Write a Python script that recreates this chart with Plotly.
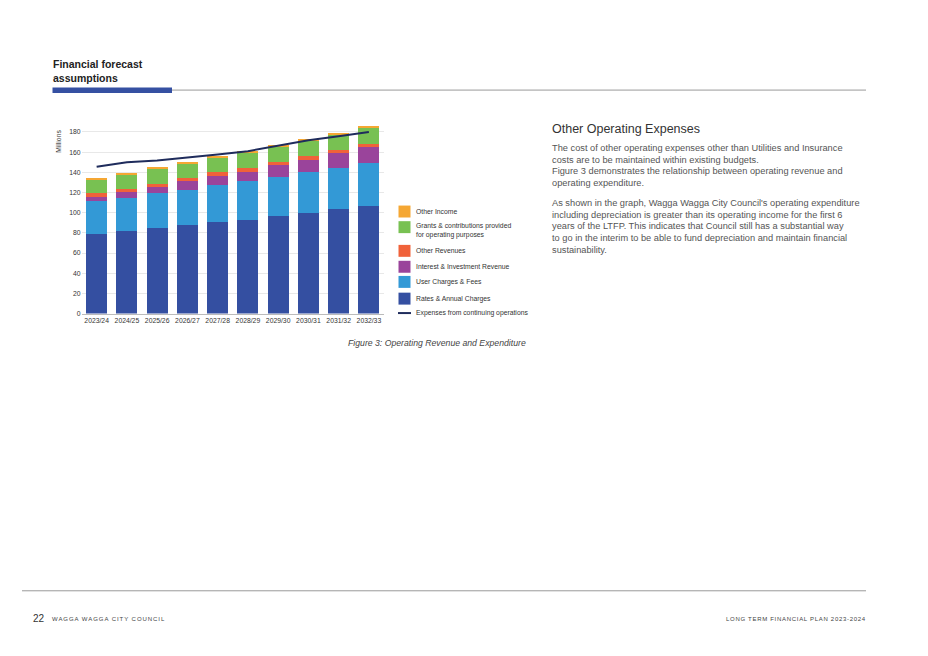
import plotly.graph_objects as go

W, H = 928, 656

years = ["2023/24", "2024/25", "2025/26", "2026/27", "2027/28",
         "2028/29", "2029/30", "2030/31", "2031/32", "2032/33"]

rates_annual = [78.5, 81.5, 84.4, 87.4, 90.3, 93.0, 96.6, 99.9, 103.2, 107.1]
user_charges = [33.2, 33.5, 34.8, 35.5, 36.8, 38.0, 39.1, 40.1, 41.3, 42.4]
interest_inv = [4.3, 5.2, 6.3, 8.1, 9.6, 9.6, 11.1, 12.4, 14.2, 15.4]
other_revenues = [3.6, 3.3, 2.9, 3.0, 3.3, 3.9, 3.7, 4.0, 3.3, 3.3]
grants_contrib = [13.8, 14.1, 15.2, 15.1, 14.7, 15.2, 15.4, 15.1, 15.4, 16.1]
other_income = [1.0, 1.4, 0.9, 1.0, 1.3, 1.3, 1.0, 1.6, 1.6, 1.3]
expenses = [145.5, 150.0, 151.8, 154.4, 157.7, 161.0, 166.5, 171.8, 175.8, 180.0]

y_ticks = [0, 20, 40, 60, 80, 100, 120, 140, 160, 180]

series = [
    ("Rates & Annual Charges", rates_annual, "#344FA1"),
    ("User Charges & Fees", user_charges, "#3399D6"),
    ("Interest & Investment Revenue", interest_inv, "#9A449B"),
    ("Other Revenues", other_revenues, "#F0623A"),
    ("Grants & contributions provided<br>for operating purposes", grants_contrib, "#78C152"),
    ("Other Income", other_income, "#F5A733"),
]
line_name = "Expenses from continuing operations"
line_color = "#1F2C5C"

FONT = "Liberation Sans, Arial, sans-serif"


def px(x):
    return x / W


def py(y):
    return 1 - y / H


def spaced(t, ls):
    return '<span style="letter-spacing:%spx">%s</span>' % (ls, t)


fig = go.Figure()
for name, vals, col in series:
    fig.add_trace(go.Bar(x=years, y=vals, name=name, marker=dict(color=col, line=dict(width=0)),
                         showlegend=False))
fig.add_trace(go.Scatter(x=years, y=expenses, name=line_name, mode="lines",
                         line=dict(color=line_color, width=2), showlegend=False))

shapes = []
annotations = []

# custom legend (top to bottom)
legend_rows = [
    ("Other Income", "#F5A733", 212.5, "box"),
    ("Grants & contributions provided<br>for operating purposes", "#78C152", 228.2, "box"),
    ("Other Revenues", "#F0623A", 252.0, "box"),
    ("Interest & Investment Revenue", "#9A449B", 268.0, "box"),
    ("User Charges & Fees", "#3399D6", 283.2, "box"),
    ("Rates & Annual Charges", "#344FA1", 300.0, "box"),
    (line_name, line_color, 314.5, "line"),
]
for text, col, yc, kind in legend_rows:
    if kind == "box":
        shapes.append(dict(type="rect", xref="paper", yref="paper",
                           x0=px(398.5), x1=px(410.5), y0=py(yc - 6), y1=py(yc + 6),
                           fillcolor=col, line=dict(width=0)))
    else:
        shapes.append(dict(type="line", xref="paper", yref="paper",
                           x0=px(398), x1=px(411), y0=py(yc), y1=py(yc),
                           line=dict(color=col, width=2)))
    nlines = text.count("<br>") + 1
    ytxt = yc + (3.8 if nlines == 2 else 0)
    annotations.append(dict(text=text, x=px(413.5), y=py(ytxt), xref="paper", yref="paper",
                            xanchor="left", yanchor="middle", showarrow=False, align="left",
                            font=dict(family=FONT, size=6.8, color="#333333")))

# y-axis title
annotations.append(dict(text="Millions", x=px(58.5), y=py(142), xref="paper", yref="paper",
                        textangle=-90, showarrow=False, xanchor="center", yanchor="middle",
                        font=dict(family=FONT, size=6.8, color="#333333")))

# page header
annotations.append(dict(text="<b>Financial forecast<br>assumptions</b>", x=px(50.5), y=py(71.5),
                        xref="paper", yref="paper", xanchor="left", yanchor="middle",
                        showarrow=False, align="left",
                        font=dict(family=FONT, size=10.5, color="#222222")))
shapes.append(dict(type="line", xref="paper", yref="paper", x0=px(172), x1=px(866),
                   y0=py(90.5), y1=py(90.5), line=dict(color="#9a9a9a", width=1)))
shapes.append(dict(type="rect", xref="paper", yref="paper", x0=px(52.5), x1=px(172),
                   y0=py(93.5), y1=py(88), fillcolor="#3550A2", line=dict(width=0)))

# caption
annotations.append(dict(text="<i>Figure 3: Operating Revenue and Expenditure</i>", x=px(527.5), y=py(345),
                        xref="paper", yref="paper", xanchor="right", yanchor="middle",
                        showarrow=False, font=dict(family=FONT, size=8.7, color="#444444")))

# right column text
annotations.append(dict(text="Other Operating Expenses", x=px(549.5), y=py(130),
                        xref="paper", yref="paper", xanchor="left", yanchor="middle",
                        showarrow=False, font=dict(family=FONT, size=12.5, color="#333333")))
body_lines = [
    ("The cost of other operating expenses other than Utilities and Insurance", 149),
    ("costs are to be maintained within existing budgets.", 160.5),
    ("Figure 3 demonstrates the relationship between operating revenue and", 172),
    ("operating expenditure.", 183.5),
    ("As shown in the graph, Wagga Wagga City Council's operating expenditure", 204),
    ("including depreciation is greater than its operating income for the first 6", 215.7),
    ("years of the LTFP. This indicates that Council still has a substantial way", 227.4),
    ("to go in the interim to be able to fund depreciation and maintain financial", 239.1),
    ("sustainability.", 250.8),
]
for t, yy in body_lines:
    annotations.append(dict(text=t, x=px(549.5), y=py(yy), xref="paper", yref="paper",
                            xanchor="left", yanchor="middle", showarrow=False,
                            font=dict(family=FONT, size=9.25, color="#555555")))

# footer
shapes.append(dict(type="line", xref="paper", yref="paper", x0=px(22), x1=px(866),
                   y0=py(593.5), y1=py(593.5), line=dict(color="#9a9a9a", width=1)))
annotations.append(dict(text="22", x=px(31), y=py(621), xref="paper", yref="paper",
                        xanchor="left", yanchor="middle", showarrow=False,
                        font=dict(family=FONT, size=10, color="#333333")))
annotations.append(dict(text=spaced("WAGGA WAGGA CITY COUNCIL", 0.95),
                        x=px(49.5), y=py(621.5), xref="paper", yref="paper",
                        xanchor="left", yanchor="middle", showarrow=False,
                        font=dict(family=FONT, size=6, color="#444444")))
annotations.append(dict(text=spaced("LONG TERM FINANCIAL PLAN 2023-2024", 0.7),
                        x=px(868), y=py(621.5), xref="paper", yref="paper",
                        xanchor="right", yanchor="middle", showarrow=False,
                        font=dict(family=FONT, size=6, color="#444444")))

fig.update_layout(
    width=W, height=H,
    margin=dict(l=0, r=0, t=0, b=0),
    paper_bgcolor="white", plot_bgcolor="white",
    barmode="stack", bargap=0.3,
    showlegend=False,
    font=dict(family=FONT, size=7, color="#333333"),
    shapes=shapes, annotations=annotations,
    xaxis=dict(domain=[px(81.5), px(384)], type="category", showgrid=False,
               showline=True, linecolor="#bbbbbb", linewidth=1, ticks="",
               tickfont=dict(family=FONT, size=6.8, color="#333333")),
    yaxis=dict(domain=[py(315), py(126.5)], range=[0, 186], tickvals=y_ticks,
               showgrid=True, gridcolor="#e8e8e8", gridwidth=1, zeroline=False,
               ticks="", showline=False,
               tickfont=dict(family=FONT, size=6.8, color="#333333")),
)

fig.write_html("out.html", config={"displayModeBar": False},
               post_script="document.body.style.margin='0';document.body.style.overflow='hidden';")
